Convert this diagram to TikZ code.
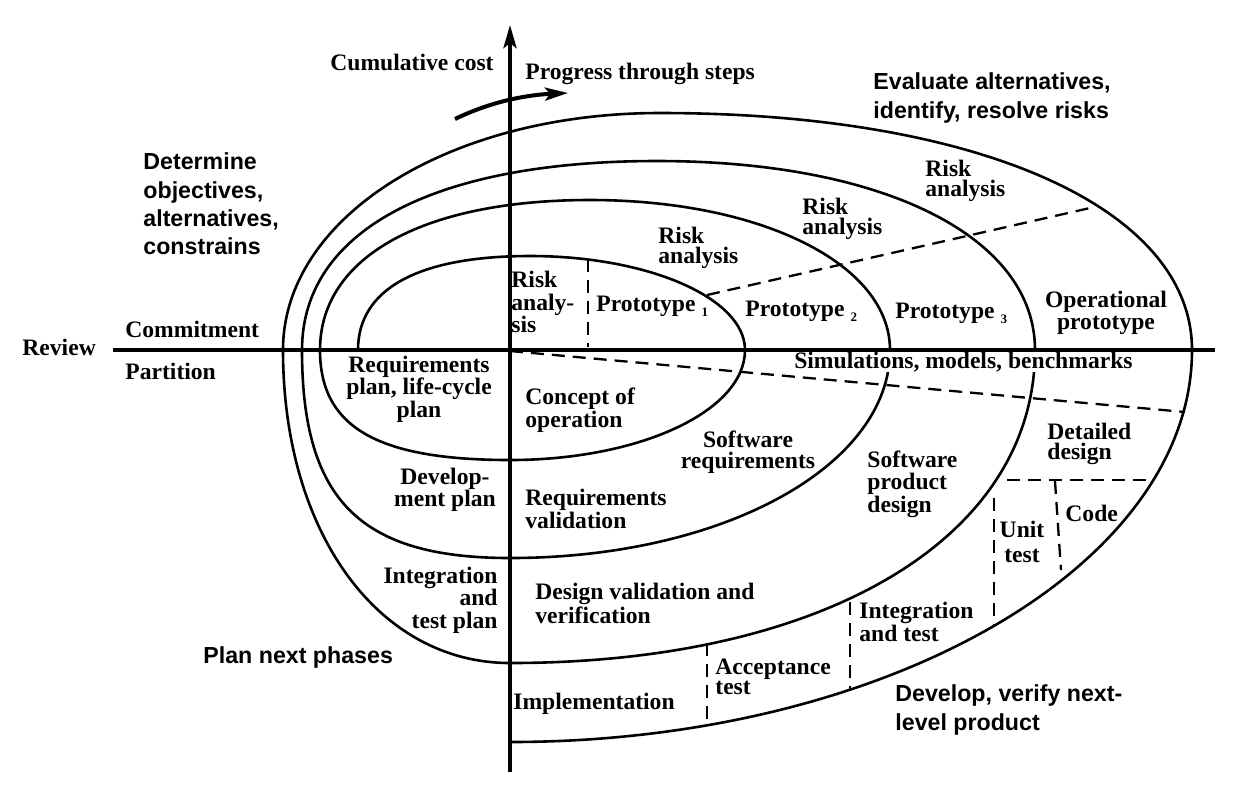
\documentclass[tikz,border=0pt]{standalone}
\usepackage{fontspec}
\setmainfont{Liberation Serif}
\newfontfamily\quadfont{Liberation Sans}
\usetikzlibrary{arrows.meta}
\pgfdeclarelayer{edgelayer}
\pgfdeclarelayer{nodelayer}
\pgfsetlayers{edgelayer,nodelayer,main}
\newcommand{\protoidx}[1]{\hspace{3pt}\raisebox{-2.5pt}{\fontsize{6.5}{7}\selectfont #1}}
\tikzstyle{step_label}=[font=\fontsize{11.8}{11.2}\selectfont\bfseries, inner sep=0pt, align=left]
\tikzstyle{tight_label}=[step_label, font=\fontsize{11.8}{10.3}\selectfont\bfseries]
\tikzstyle{quadrant_label}=[font=\quadfont\fontsize{11.6}{14.2}\selectfont\bfseries, inner sep=0pt, align=left]
\tikzstyle{spiral_line}=[-, draw=black, line width=1.3pt]
\tikzstyle{phase_line}=[-, draw=black, line width=1.15pt, dash pattern=on 6.5pt off 4pt]
\tikzstyle{axis_line}=[draw=black, line width=2pt]
\tikzstyle{big_tip}=[-{Stealth[length=11.5pt, width=6.5pt, inset=2.5pt]}]

\begin{document}
\begin{tikzpicture}[x=0.5pt, y=-0.5pt]
	\useasboundingbox (0, 0) rectangle (1237, 784);
	\begin{pgfonlayer}{nodelayer}
		\node [style=step_label, anchor=east] (0) at (494, 62) {Cumulative cost};
		\node [style=step_label, anchor=west] (1) at (525, 74) {Progress through steps};
		\node [style=quadrant_label, anchor=west] (2) at (873, 98) {Evaluate alternatives,\\identify, resolve risks};
		\node [style=quadrant_label, anchor=west] (3) at (143, 204) {Determine\\objectives,\\alternatives,\\constrains};
		\node [style=step_label, anchor=west] (4) at (22, 347) {Review};
		\node [style=step_label, anchor=west] (5) at (125, 329) {Commitment};
		\node [style=step_label, anchor=west] (6) at (125, 371) {Partition};
		\node [style=step_label, align=center] (7) at (419, 389) {Requirements\\plan, life-cycle\\plan};
		\node [style=step_label, anchor=west] (8) at (511, 302) {Risk\\analy-\\sis};
		\node [style=step_label, anchor=west] (9) at (596, 306) {Prototype\protoidx{1}};
		\node [style=step_label, anchor=west] (10) at (745, 311) {Prototype\protoidx{2}};
		\node [style=step_label, anchor=west] (11) at (895, 313) {Prototype\protoidx{3}};
		\node [style=step_label, align=center] (12) at (1106, 313) {Operational\\prototype};
		\node [style=tight_label, anchor=west] (13) at (658, 248) {Risk\\analysis};
		\node [style=tight_label, anchor=west] (14) at (802, 219) {Risk\\analysis};
		\node [style=tight_label, anchor=west] (15) at (925, 181) {Risk\\analysis};
		\node [style=step_label, anchor=east, fill=white] (16) at (1133, 362) {Simulations, models, benchmarks};
		\node [style=tight_label, anchor=west] (17) at (525, 410) {Concept of\\operation};
		\node [style=tight_label, align=center] (18) at (748, 452) {Software\\requirements};
		\node [style=tight_label, anchor=west] (19) at (525, 509) {Requirements\\validation};
		\node [style=step_label, align=center] (20) at (445, 490) {Develop-\\ment plan};
		\node [style=step_label, align=right, anchor=east] (21) at (498, 600) {Integration\\and\\test plan};
		\node [style=tight_label, anchor=west] (22) at (535, 603) {Design validation and\\verification};
		\node [style=step_label, anchor=west] (23) at (867, 484) {Software\\product\\design};
		\node [style=tight_label, anchor=west] (24) at (1047, 444) {Detailed\\design};
		\node [style=step_label, align=center, font=\fontsize{11.8}{12.5}\selectfont\bfseries] (25) at (1022, 542) {Unit\\test};
		\node [style=step_label, anchor=west] (26) at (1065, 513) {Code};
		\node [style=tight_label, anchor=west] (27) at (859, 622) {Integration\\and test};
		\node [style=tight_label, anchor=west] (28) at (715, 677) {Acceptance\\test};
		\node [style=step_label, anchor=west] (29) at (513, 704) {Implementation};
		\node [style=quadrant_label, anchor=west] (30) at (895, 710) {Develop, verify next-\\level product};
		\node [style=quadrant_label, anchor=west] (31) at (203, 657) {Plan next phases};
	\end{pgfonlayer}
	\begin{pgfonlayer}{edgelayer}
		% axes
		\draw [style=axis_line, style=big_tip] (510, 772) -- (510, 25);
		\draw [style=axis_line] (113, 350) -- (1215, 350);
		\draw [line width=2pt, style=big_tip] (455, 119) .. controls (490, 102) and (525, 95) .. (568, 93);
		% spiral
		\draw [style=spiral_line] (358, 350)
			.. controls (358, 289) and (418, 256) .. (530, 256)
			.. controls (648, 256) and (745, 298) .. (745, 350)
			.. controls (745, 411) and (640, 460) .. (510, 460)
			.. controls (377, 460) and (320, 427) .. (320, 350)
			.. controls (320, 257) and (423, 200) .. (590, 200)
			.. controls (761, 200) and (890, 264) .. (890, 350)
			.. controls (890, 466) and (723, 558) .. (510, 558)
			.. controls (360, 558) and (302, 500) .. (302, 350)
			.. controls (302, 231) and (433, 161) .. (657, 161)
			.. controls (884, 161) and (1035, 237) .. (1035, 350)
			.. controls (1035, 538) and (825, 663) .. (510, 663)
			.. controls (378, 663) and (283, 532) .. (283, 350)
			.. controls (283, 217) and (449, 113) .. (660, 113)
			.. controls (979, 113) and (1192, 208) .. (1192, 350)
			.. controls (1192, 566) and (886, 742) .. (510, 742);
		% phase boundaries
		\draw [style=phase_line] (510, 351) -- (1185, 412);
		\draw [style=phase_line] (707, 295) -- (1090, 208);
		\draw [style=phase_line] (588, 259) -- (588, 347);
		\draw [style=phase_line] (707, 643) -- (707, 725);
		\draw [style=phase_line] (850, 602) -- (850, 690);
		\draw [style=phase_line] (1007, 480) -- (1148, 480);
		\draw [style=phase_line] (994, 498) -- (994, 627);
		\draw [style=phase_line] (1055, 481) -- (1061, 570);
	\end{pgfonlayer}
\end{tikzpicture}
\end{document}
